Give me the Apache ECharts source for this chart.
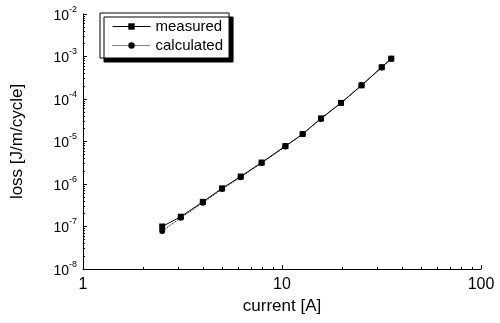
<!DOCTYPE html>
<html>
<head>
<meta charset="utf-8">
<script src="https://cdn.jsdelivr.net/npm/echarts@6/dist/echarts.min.js"></script>
<style>
  html, body { margin: 0; padding: 0; background: #fff; }
</style>
</head>
<body>
<div id="chart" style="width:500px;height:323px;"></div>
<script>
    // values
    var currentMeasured = [2.5, 3.1, 4.0, 5.0, 6.2, 7.9, 10.4, 12.7, 15.7, 19.8, 25.1, 31.7, 35.4];
    var lossMeasured = [1.0e-7, 1.7e-7, 3.8e-7, 7.9e-7, 1.5e-6, 3.2e-6, 7.8e-6, 1.5e-5, 3.5e-5, 8.1e-5, 2.1e-4, 5.6e-4, 8.9e-4];
    var currentCalc = [2.5, 3.1, 4.0, 5.0, 6.2, 7.9, 10.4, 12.7, 15.7, 19.8, 25.1, 31.7, 35.4];
    var lossCalc = [7.8e-8, 1.6e-7, 3.6e-7, 7.6e-7, 1.45e-6, 3.1e-6, 7.6e-6, 1.5e-5, 3.4e-5, 8.0e-5, 2.1e-4, 5.5e-4, 8.9e-4];
    var seriesNames = ['measured', 'calculated'];
    var lineTypes = ['solid', 'dotted'];

    function pairs(xs, ys) {
        return xs.map(function (x, i) { return [x, ys[i]]; });
    }

    var chart = echarts.init(document.getElementById('chart'));
    var font = 'Liberation Sans, Arial, sans-serif';

    chart.setOption({
        animation: false,
        backgroundColor: '#fff',
        grid: { left: 83, right: 19, top: 14, bottom: 54 },
        legend: {
            data: seriesNames.map(function (n, i) {
                return { name: n, lineStyle: { width: 1, type: lineTypes[i], color: '#000' } };
            }),
            orient: 'vertical',
            left: 100,
            top: 13,
            padding: [6, 6, 5, 12],
            itemGap: 4,
            itemWidth: 38,
            itemHeight: 8,
            itemTextGap: 9,
            backgroundColor: '#fff',
            borderColor: '#000',
            borderWidth: 1,
            borderRadius: 0,
            shadowColor: '#000',
            shadowBlur: 0,
            shadowOffsetX: 4,
            shadowOffsetY: 4,
            textStyle: { color: '#000', fontFamily: font, fontSize: 15 },
            selectedMode: false
        },
        xAxis: {
            type: 'log',
            logBase: 10,
            min: 1,
            max: 100,
            name: 'current [A]',
            nameLocation: 'middle',
            nameGap: 28,
            nameTextStyle: { color: '#000', fontFamily: font, fontSize: 17 },
            axisLine: { lineStyle: { color: '#000', width: 1 } },
            axisTick: { inside: true, length: 4, lineStyle: { color: '#000' } },
            minorTick: { show: true, splitNumber: 9, length: 2, lineStyle: { color: '#000' } },
            splitLine: { show: false },
            axisLabel: { color: '#000', fontFamily: font, fontSize: 16, margin: 8 }
        },
        yAxis: {
            type: 'log',
            logBase: 10,
            min: 1e-8,
            max: 1e-2,
            interval: 1,
            name: 'loss [J/m/cycle]',
            nameLocation: 'middle',
            nameGap: 57,
            nameRotate: 90,
            nameTextStyle: { color: '#000', fontFamily: font, fontSize: 17 },
            axisLine: { show: true, lineStyle: { color: '#000', width: 1 } },
            axisTick: { inside: true, length: 4, lineStyle: { color: '#000' } },
            minorTick: { show: true, splitNumber: 9, length: 2, lineStyle: { color: '#000' } },
            splitLine: { show: false },
            axisLabel: {
                color: '#000',
                fontFamily: font,
                margin: 6,
                formatter: function (v) {
                    var e = Math.round(Math.log10(v));
                    return '{b|10}{s|' + e + '}';
                },
                rich: {
                    b: { fontSize: 14, fontFamily: font, color: '#000', verticalAlign: 'bottom', lineHeight: 18 },
                    s: { fontSize: 9, fontFamily: font, color: '#000', verticalAlign: 'top', lineHeight: 18 }
                }
            }
        },
        series: [
            {
                name: seriesNames[0],
                type: 'line',
                data: pairs(currentMeasured, lossMeasured),
                symbol: 'rect',
                symbolSize: 6,
                itemStyle: { color: '#000' },
                lineStyle: { color: '#000', width: 1, type: lineTypes[0] }
            },
            {
                name: seriesNames[1],
                type: 'line',
                data: pairs(currentCalc, lossCalc),
                symbol: 'circle',
                symbolSize: 6,
                itemStyle: { color: '#000' },
                lineStyle: { color: '#000', width: 1, type: lineTypes[1] }
            }
        ]
    });
</script>
</body>
</html>
